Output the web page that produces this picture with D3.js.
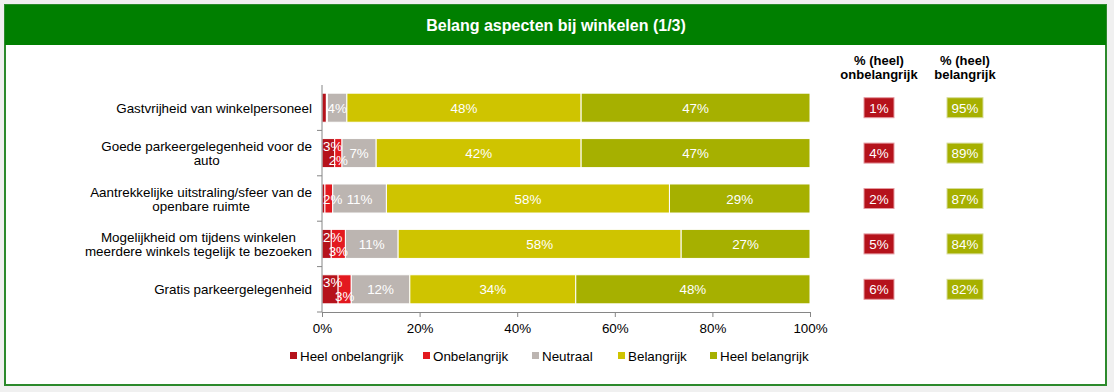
<!DOCTYPE html>
<html>
<head>
<meta charset="utf-8">
<script src="https://cdn.jsdelivr.net/npm/d3@7"></script>
<style>
    body { margin: 0; background: #f0f0f0; }
    svg { display: block; font-family: Arial, "Liberation Sans", sans-serif; }
</style>
</head>
<body>
<svg id="chart" width="1114" height="392"></svg>
<script>
// chart data
const categories = [
    'Gastvrijheid van winkelpersoneel',
    'Goede parkeergelegenheid voor de\nauto',
    'Aantrekkelijke uitstraling/sfeer van de\nopenbare ruimte',
    'Mogelijkheid om tijdens winkelen\nmeerdere winkels tegelijk te bezoeken',
    'Gratis parkeergelegenheid'
];
const seriesNames = ['Heel onbelangrijk', 'Onbelangrijk', 'Neutraal', 'Belangrijk', 'Heel belangrijk'];
const heelOnbelangrijk = [0.9, 2.6, 0.6, 1.9, 3.3];
const onbelangrijk = [0.2, 1.5, 1.6, 2.9, 2.7];
const neutraal = [4, 7, 11, 10.8, 12];
const belangrijk = [48, 42, 58, 58, 34];
const heelBelangrijk = [47, 47, 29, 26.6, 48];
const pctOnbelangrijk = [1, 4, 2, 5, 6];
const pctBelangrijk = [95, 89, 87, 84, 82];
const xTicks = [0, 20, 40, 60, 80, 100];

const colors = ['#b5121b', '#e3191f', '#bcb5b1', '#cfc400', '#a6b000'];
const seriesValues = [heelOnbelangrijk, onbelangrijk, neutraal, belangrijk, heelBelangrijk];

const fontSize = 13.4;
const svg = d3.select('#chart');

// frame + title bar
svg.append('rect')
    .attr('x', 5).attr('y', 5)
    .attr('width', 1101).attr('height', 380)
    .style('fill', 'white')
    .style('stroke', '#2c8a2c')
    .style('stroke-width', 2);

svg.append('rect')
    .attr('x', 5).attr('y', 5)
    .attr('width', 1101).attr('height', 40)
    .style('fill', '#007f00');

svg.append('text')
    .text('Belang aspecten bij winkelen (1/3)')
    .attr('x', 556).attr('y', 31)
    .attr('text-anchor', 'middle')
    .attr('fill', 'white')
    .attr('font-weight', 'bold')
    .attr('font-size', 16);

// scales
const x = d3.scaleLinear().domain([0, 100]).range([322, 810]);
const y = d3.scaleBand().domain(d3.range(categories.length))
    .range([85, 312]).paddingInner(0.36).paddingOuter(0.18);

// stacked bars
const rows = categories.map((c, i) => {
    let acc = 0;
    return seriesValues.map((vals, s) => {
        const seg = { row: i, series: s, value: vals[i], x0: acc, x1: acc + vals[i] };
        acc += vals[i];
        return seg;
    });
});

const axisColor = '#868686';
const g = svg.append('g');

rows.forEach(segs => {
    g.selectAll(null)
        .data(segs)
        .enter()
        .append('rect')
        .attr('x', d => x(d.x0))
        .attr('y', d => y(d.row))
        .attr('width', d => Math.max(0, Math.min(x(d.x1), 810) - x(d.x0)))
        .attr('height', y.bandwidth())
        .style('fill', d => colors[d.series])
        .style('stroke', 'white')
        .style('stroke-width', 1);
});

// y axis: line + ticks between categories
g.append('line')
    .attr('x1', x(0)).attr('x2', x(0))
    .attr('y1', 85).attr('y2', 312)
    .style('stroke', axisColor);
d3.range(categories.length).forEach(i => {
    const ty = y(i) + y.bandwidth() + y.step() * 0.18;
    g.append('line')
        .attr('x1', x(0) - 5).attr('x2', x(0))
        .attr('y1', ty).attr('y2', ty)
        .style('stroke', axisColor);
});

// segment labels (small neighbours staggered, kept inside the plot)
rows.forEach(segs => {
    const shown = segs.filter(d => d.value >= 1.5);
    const stagger = segs[0].value >= 1.5 && segs[1].value >= 1.5;
    g.selectAll(null)
        .data(shown)
        .enter()
        .append('text')
        .text(d => Math.round(d.value) + '%')
        .attr('y', d => {
            let cy = y(d.row) + y.bandwidth() / 2 + 5;
            if (stagger && d.series === 0) cy -= 7;
            if (stagger && d.series === 1) cy += 7;
            return cy;
        })
        .attr('text-anchor', 'middle')
        .attr('fill', 'white')
        .attr('font-size', fontSize)
        .each(function (d) {
            const w = this.getComputedTextLength();
            const cx = Math.max(x((d.x0 + Math.min(d.x1, 100)) / 2), x(0) + 1 + w / 2);
            d3.select(this).attr('x', cx);
        });
});

// x axis
const xAxis = svg.append('g')
    .attr('transform', 'translate(0,312)')
    .call(d3.axisBottom(x).tickValues(xTicks).tickFormat(d => d + '%').tickSize(5).tickSizeOuter(0));
xAxis.select('.domain').style('stroke', axisColor);
xAxis.selectAll('.tick line').style('stroke', axisColor);
xAxis.selectAll('.tick text')
    .attr('font-size', fontSize)
    .attr('font-family', 'Arial, "Liberation Sans", sans-serif')
    .attr('fill', '#000')
    .attr('dy', '0.95em');

// category labels, wrapped lines centred in a right-aligned block
categories.forEach((c, i) => {
    const lines = c.split('\n');
    const lh = 14;
    const cy = y(i) + y.bandwidth() / 2;
    const t = svg.append('text')
        .attr('font-size', fontSize)
        .attr('fill', '#000')
        .attr('text-anchor', 'middle');
    const spans = lines.map((l, k) => t.append('tspan')
        .text(l)
        .attr('y', cy + 5 + (k - (lines.length - 1) / 2) * lh));
    const w = d3.max(spans, s => s.node().getComputedTextLength());
    spans.forEach(s => s.attr('x', 312 - w / 2));
});

// right-hand summary columns
const summaryCols = [
    { cx: 879, w: 30, values: pctOnbelangrijk, fill: colors[0], stroke: '#e59aa0', head: ['% (heel)', 'onbelangrijk'] },
    { cx: 965, w: 36, values: pctBelangrijk, fill: colors[4], stroke: '#d6dc99', head: ['% (heel)', 'belangrijk'] }
];
summaryCols.forEach(col => {
    col.head.forEach((h, k) => {
        svg.append('text')
            .text(h)
            .attr('x', col.cx).attr('y', 65 + k * 14)
            .attr('text-anchor', 'middle')
            .attr('font-weight', 'bold')
            .attr('font-size', 13)
            .attr('fill', '#000');
    });
    col.values.forEach((v, i) => {
        const cy = y(i) + y.bandwidth() / 2;
        svg.append('rect')
            .attr('x', col.cx - col.w / 2).attr('y', cy - 10)
            .attr('width', col.w).attr('height', 20)
            .style('fill', col.fill)
            .style('stroke', col.stroke)
            .style('stroke-width', 1);
        svg.append('text')
            .text(v + '%')
            .attr('x', col.cx).attr('y', cy + 5)
            .attr('text-anchor', 'middle')
            .attr('fill', 'white')
            .attr('font-size', fontSize);
    });
});

// legend
const legendX = [290, 423, 532, 618, 710];
seriesNames.forEach((name, s) => {
    svg.append('rect')
        .attr('x', legendX[s]).attr('y', 352)
        .attr('width', 7).attr('height', 7)
        .style('fill', colors[s]);
    svg.append('text')
        .text(name)
        .attr('x', legendX[s] + 10).attr('y', 361)
        .attr('font-size', fontSize)
        .attr('fill', '#000');
});
</script>
</body>
</html>
